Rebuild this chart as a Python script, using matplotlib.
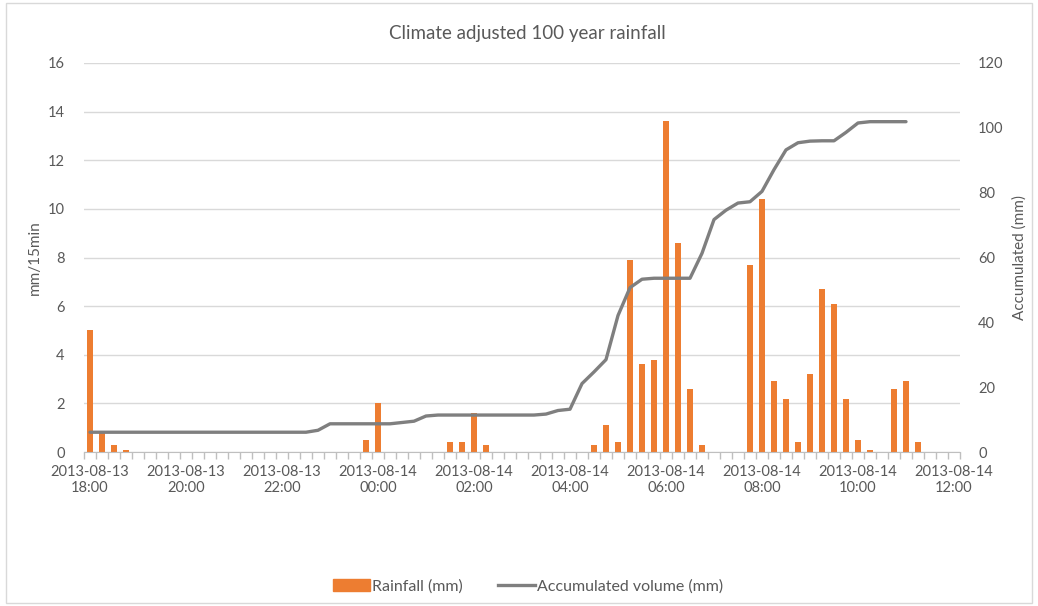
import numpy as np
import matplotlib
matplotlib.use("Agg")
import matplotlib.pyplot as plt
from matplotlib.lines import Line2D
from matplotlib.patches import Patch

plt.rcParams["font.family"] = ["Lato", "DejaVu Sans"]

# 15-minute steps from 2013-08-13 18:00 to 2013-08-14 12:00
times = [f"2013-08-13\n{h:02d}:{m:02d}" for h in range(18, 24) for m in (0, 15, 30, 45)]
times += [f"2013-08-14\n{h:02d}:{m:02d}" for h in range(0, 12) for m in (0, 15, 30, 45)]
times += ["2013-08-14\n12:00"]

# Rainfall per 15 min (mm)
rain = [5.0, 0.8, 0.3, 0.1, 0, 0, 0, 0, 0, 0,
        0, 0, 0, 0, 0, 0, 0, 0, 0, 0,
        0, 0, 0, 0.5, 2.0, 0, 0, 0, 0, 0,
        0.4, 0.4, 1.6, 0.3, 0, 0, 0, 0, 0, 0,
        0, 0, 0.3, 1.1, 0.4, 7.9, 3.6, 3.8, 13.6, 8.6,
        2.6, 0.3, 0, 0, 0, 7.7, 10.4, 2.9, 2.2, 0.4,
        3.2, 6.7, 6.1, 2.2, 0.5, 0.1, 0, 2.6, 2.9, 0.4,
        0, 0, 0]

# Accumulated volume (mm)
accum = [6.1, 6.1, 6.1, 6.1, 6.1, 6.1, 6.1, 6.1, 6.1, 6.1,
         6.1, 6.1, 6.1, 6.1, 6.1, 6.1, 6.1, 6.1, 6.1, 6.7,
         8.7, 8.7, 8.7, 8.7, 8.7, 8.7, 9.1, 9.5, 11.1, 11.4,
         11.4, 11.4, 11.4, 11.4, 11.4, 11.4, 11.4, 11.4, 11.7, 12.8,
         13.2, 21.1, 24.7, 28.5, 42.1, 50.7, 53.3, 53.6, 53.6, 53.6,
         53.6, 61.3, 71.7, 74.6, 76.8, 77.2, 80.4, 87.1, 93.2, 95.4,
         95.9, 96.0, 96.0, 98.6, 101.5, 101.9, 101.9, 101.9, 101.9]

TXT = "#595959"
GRID = "#D9D9D9"

x = np.arange(len(times))

fig = plt.figure(figsize=(10.38, 6.06), dpi=100)
ax = fig.add_axes([84 / 1038, 1 - 452 / 606, (960 - 84) / 1038, (452 - 63) / 606])
ax2 = ax.twinx()

ax.bar(x, rain, width=0.42, color="#ED7D31", zorder=2)
ax2.plot(np.arange(len(accum)), accum, color="#7F7F7F", lw=2.4, solid_capstyle="round", zorder=3)

ax.set_xlim(-0.5, len(times) - 0.5)
ax.set_ylim(0, 16)
ax.set_yticks(range(0, 17, 2))
ax2.set_ylim(0, 120)
ax2.set_yticks(range(0, 121, 20))
ax.grid(axis="y", color=GRID, lw=1, zorder=0)
ax.set_axisbelow(True)

ax.set_xticks(x[::8])
ax.set_xticklabels(times[::8], linespacing=1.25)
ax.set_xticks(np.arange(-0.5, len(times), 1), minor=True)
ax.tick_params(axis="x", which="major", length=0, pad=9, labelsize=10.5, labelcolor=TXT)
ax.tick_params(axis="x", which="minor", length=5, color="#BFBFBF", width=1)
ax.tick_params(axis="y", length=0, pad=14, labelsize=10.5, labelcolor=TXT)
ax2.tick_params(axis="y", length=0, pad=13, labelsize=10.5, labelcolor=TXT)

for a in (ax, ax2):
    for s in a.spines.values():
        s.set_visible(False)
ax.spines["bottom"].set_visible(True)
ax.spines["bottom"].set_color("#BFBFBF")

ax.set_ylabel("mm/15min", color=TXT, fontsize=11, labelpad=4)
ax2.set_ylabel("Accumulated (mm)", color=TXT, fontsize=11, labelpad=6)

fig.text(527 / 1038, 1 - 33 / 606, "Climate adjusted 100 year rainfall", ha="center", va="center",
         color=TXT, fontsize=13.5)

handles = [Patch(color="#ED7D31", label="Rainfall (mm)"),
           Line2D([0], [0], color="#7F7F7F", lw=2.4, label="Accumulated volume (mm)")]
fig.legend(handles=handles, loc="center", bbox_to_anchor=(528 / 1038, 1 - 586 / 606), ncol=2,
           frameon=False, fontsize=11.5, labelcolor=TXT, handlelength=2.3, handleheight=0.8,
           handletextpad=0.15, columnspacing=2.2)

# chart area border
fig.add_artist(plt.Rectangle((0.006, 0.005), 0.988, 0.99, transform=fig.transFigure,
                             fill=False, edgecolor="#D9D9D9", lw=1))

fig.savefig("out.png", dpi=100)
